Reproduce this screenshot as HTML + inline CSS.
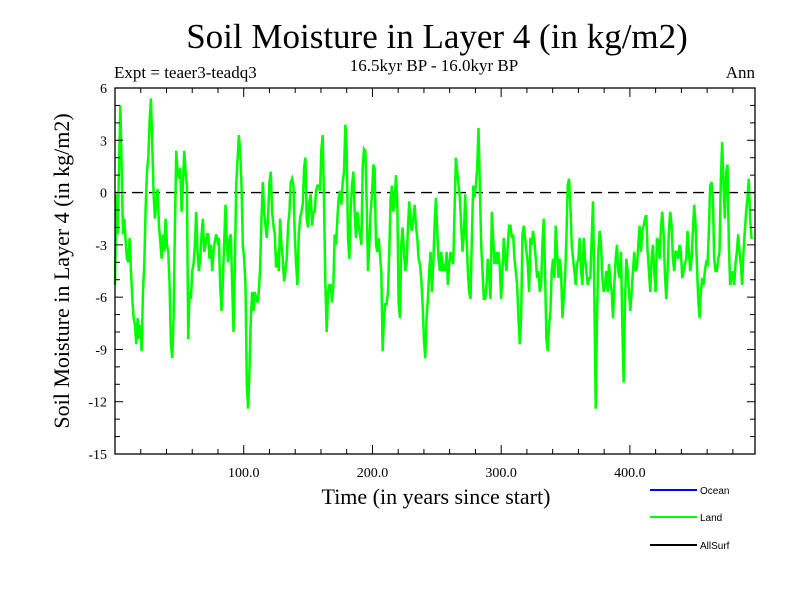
<!DOCTYPE html>
<html><head><meta charset="utf-8"><style>
html,body{margin:0;padding:0;background:#fff;}
svg{display:block;font-family:"Liberation Serif",serif;}
</style></head><body>
<svg id="chart" width="800" height="600" viewBox="0 0 800 600">
<text x="437" y="48" font-size="35" text-anchor="middle">Soil Moisture in Layer 4 (in kg/m2)</text>
<text x="434" y="71" font-size="17" text-anchor="middle">16.5kyr BP - 16.0kyr BP</text>
<text x="114" y="78" font-size="17">Expt = teaer3-teadq3</text>
<text x="755" y="78" font-size="17" text-anchor="end">Ann</text>
<text transform="translate(69,271) rotate(-90)" font-size="22" text-anchor="middle">Soil Moisture in Layer 4 (in kg/m2)</text>
<text x="436" y="504" font-size="22" text-anchor="middle">Time (in years since start)</text>
<g id="plot"></g>
<g>
<line x1="650" y1="490" x2="697" y2="490" stroke="#0000ff" stroke-width="2"/>
<text x="700" y="494" font-size="10" font-family="Liberation Sans,sans-serif">Ocean</text>
<line x1="650" y1="517" x2="697" y2="517" stroke="#00ff00" stroke-width="2"/>
<text x="700" y="521" font-size="10" font-family="Liberation Sans,sans-serif">Land</text>
<line x1="650" y1="545" x2="697" y2="545" stroke="#000" stroke-width="2"/>
<text x="700" y="549" font-size="10" font-family="Liberation Sans,sans-serif">AllSurf</text>
</g>
</svg>
<script>
const yTicks = [6,3,0,-3,-6,-9,-12,-15];
const xTicks = [100,200,300,400];
const xTickLabels = ["100.0","200.0","300.0","400.0"];
const landValues = [
-5.3,-0.1,-2.4,1.4,5.0,1.4,-2.4,-1.5,-2.8,-3.8,-4.0,-2.6,-4.5,-6.1,-7.2,-7.6,-8.7,-7.2,-8.4,-7.6,-9.1,-5.7,-4.1,-0.9,1.2,2.0,4.1,5.4,2.7,-0.1,-1.5,-0.5,0.2,-1.9,-2.8,-3.8,-2.4,-3.4,-1.5,-3.0,-3.4,-5.3,-8.7,-9.5,-7.2,-2.0,2.4,1.2,0.8,1.4,-1.1,0.4,2.4,1.2,0.4,-8.4,-5.7,-6.1,-4.5,-4.1,-3.0,-1.1,-3.4,-4.5,-3.8,-2.4,-1.5,-3.4,-3.0,-2.4,-2.4,-3.8,-3.0,-4.5,-3.4,-2.8,-2.4,-2.8,-2.6,-5.3,-6.8,-5.1,-2.8,-0.7,-3.0,-4.0,-2.6,-2.4,-5.3,-8.0,-4.3,0.4,1.8,3.3,2.4,0.4,-3.0,-3.8,-5.3,-11.0,-12.4,-10.1,-7.2,-5.7,-6.8,-5.7,-6.1,-6.3,-5.7,-4.3,-1.5,0.6,-1.1,-1.9,-2.6,-1.3,0.6,1.2,-1.1,-1.9,-2.4,-4.3,
-3.4,-4.5,-1.5,-3.0,-3.8,-5.1,-4.5,-3.8,-1.9,-1.1,0.6,0.8,0.4,-2.4,-4.1,-5.3,-2.4,-1.5,-1.1,-0.7,1.4,2.0,-1.5,-2.0,-0.5,-0.1,-1.9,-1.1,-1.1,0.1,0.4,0.4,0.1,2.5,3.3,-0.7,-5.3,-8.0,-5.7,-5.3,-5.3,-6.3,-5.3,-2.4,-3.0,-1.5,-0.3,0.1,-0.7,0.6,1.2,3.9,2.4,-2.6,-3.8,-0.9,0.4,1.2,-1.1,-2.6,-1.1,-1.9,-2.4,-3.0,1.4,2.5,2.4,-0.5,-4.5,-3.0,-1.1,-0.1,1.6,1.4,-3.0,-3.4,-2.6,-3.6,-4.5,-9.1,-7.2,-6.4,-6.4,-5.7,-3.4,-0.3,0.4,-1.1,-0.5,1.0,-0.5,-6.3,-7.2,-3.0,-2.0,-3.4,-4.5,-4.1,-2.0,-0.5,-1.9,-2.2,-1.5,-0.7,-1.9,-2.6,-3.8,-4.1,-4.9,-6.4,-8.4,-9.5,-7.2,-6.1,-4.5,-3.4,-5.7,-4.1,-1.9,-0.3,-2.2,-3.8,-4.5,-3.4,-4.5,
-4.1,-4.5,-3.4,-5.3,-4.1,-3.4,-3.8,-4.1,-1.1,2.0,1.2,0.4,-0.3,-1.9,-3.4,-2.4,-0.1,-2.6,-4.5,-5.7,-6.1,-2.6,0.4,-0.3,0.4,1.4,3.7,0.4,-3.0,-4.5,-6.1,-6.1,-5.3,-3.8,-4.9,-6.1,-1.1,-2.6,-4.1,-3.4,-4.1,-3.4,-4.3,-6.1,-4.5,-2.6,-3.8,-4.5,-3.0,-1.9,-1.9,-2.6,-2.4,-3.8,-4.5,-5.3,-7.2,-8.7,-7.2,-2.4,-1.9,-2.6,-3.4,-4.1,-5.7,-2.6,-3.0,-2.2,-2.8,-3.8,-4.9,-4.5,-5.7,-5.3,-3.0,-1.5,-4.7,-8.4,-9.1,-7.6,-6.8,-4.5,-3.8,-4.9,-1.9,-3.4,-4.9,-3.8,-4.5,-7.2,-6.1,-4.9,-2.6,0.4,0.8,-0.7,-3.0,-3.8,-4.5,-5.3,-4.1,-3.8,-2.6,-4.5,-5.3,-2.6,-3.8,-4.5,-5.3,-4.9,-4.9,-2.6,-0.5,-6.1,-12.4,-7.2,-3.4,-2.2,-3.0,-4.9,-5.7,-5.3,-4.5,-5.7,
-4.1,-5.1,-5.7,-7.2,-5.3,-3.8,-3.0,-4.5,-4.9,-3.4,-7.6,-10.9,-6.3,-3.8,-4.5,-5.7,-6.8,-5.7,-4.5,-3.4,-4.5,-4.3,-3.0,-1.9,-3.4,-2.2,-1.9,-1.5,-1.3,-3.4,-4.5,-5.7,-3.8,-3.0,-4.5,-5.7,-2.6,-2.8,-3.8,-2.0,-1.1,-2.4,-4.7,-6.1,-4.5,-2.2,-1.1,-1.9,-3.8,-4.5,-3.4,-3.4,-3.8,-3.0,-3.4,-4.9,-4.5,-4.1,-3.8,-2.2,-3.4,-4.5,-3.8,-2.2,-0.7,-1.9,-4.1,-6.1,-7.2,-5.7,-4.9,-5.3,-4.5,-4.0,-4.1,-2.2,0.4,0.6,-0.3,-3.8,-4.5,-4.5,-3.8,-3.4,0.8,2.9,0.4,-1.5,1.2,1.6,-3.0,-5.3,-4.9,-4.5,-5.3,-4.1,-3.4,-2.4,-3.4,-4.1,-5.3,-3.4,-2.2,-1.1,-0.3,0.8,-1.5,-2.6,-2.6
];
const startYear = 0, endYear = 495.5;

const L=115, R=755, T=88, B=454;
const xMin=0, xMax=497.2, yMin=-15, yMax=6;
const xs = v => L + (v-xMin)/(xMax-xMin)*(R-L);
const ys = v => B - (v-yMin)/(yMax-yMin)*(B-T);
const NS="http://www.w3.org/2000/svg";
const g=document.getElementById('plot');
function mk(tag,attrs){const e=document.createElementNS(NS,tag);for(const k in attrs)e.setAttribute(k,attrs[k]);g.appendChild(e);return e;}

const zl=mk('line',{x1:L,x2:R,y1:ys(0),y2:ys(0),stroke:'#000','stroke-width':1.3,'stroke-dasharray':'11,6'});



const step=(endYear-startYear)/(landValues.length-1);
let d='';
landValues.forEach((v,i)=>{d+=(i?'L':'M')+xs(startYear+i*step).toFixed(2)+','+ys(v).toFixed(2);});
const ln=mk('path',{d:d,fill:'none',stroke:'#00ff00','stroke-width':2.5,'stroke-linejoin':'miter'});



const fr=mk('rect',{x:L,y:T,width:R-L,height:B-T,fill:'none',stroke:'#000','stroke-width':1.3});



for(let v=yMin; v<=yMax; v++){
  const len = (v%3===0)?8:5;
  mk('line',{x1:L,x2:L+len,y1:ys(v),y2:ys(v),stroke:'#000','stroke-width':1});
  mk('line',{x1:R-len,x2:R,y1:ys(v),y2:ys(v),stroke:'#000','stroke-width':1});
}
yTicks.forEach(v=>{
  const t=mk('text',{x:L-8,y:ys(v)+5,'font-size':14,'text-anchor':'end'});
  t.textContent=v;
  
  
});
for(let v=20; v<xMax; v+=20){
  const len=(v%100===0)?9:5;
  mk('line',{x1:xs(v),x2:xs(v),y1:B,y2:B-len,stroke:'#000','stroke-width':1});
  mk('line',{x1:xs(v),x2:xs(v),y1:T,y2:T+len,stroke:'#000','stroke-width':1});
}
xTicks.forEach((v,i)=>{
  const t=mk('text',{x:xs(v),y:B+23,'font-size':14,'text-anchor':'middle'});
  t.textContent=xTickLabels[i];
  
  
});
</script>
</body></html>
